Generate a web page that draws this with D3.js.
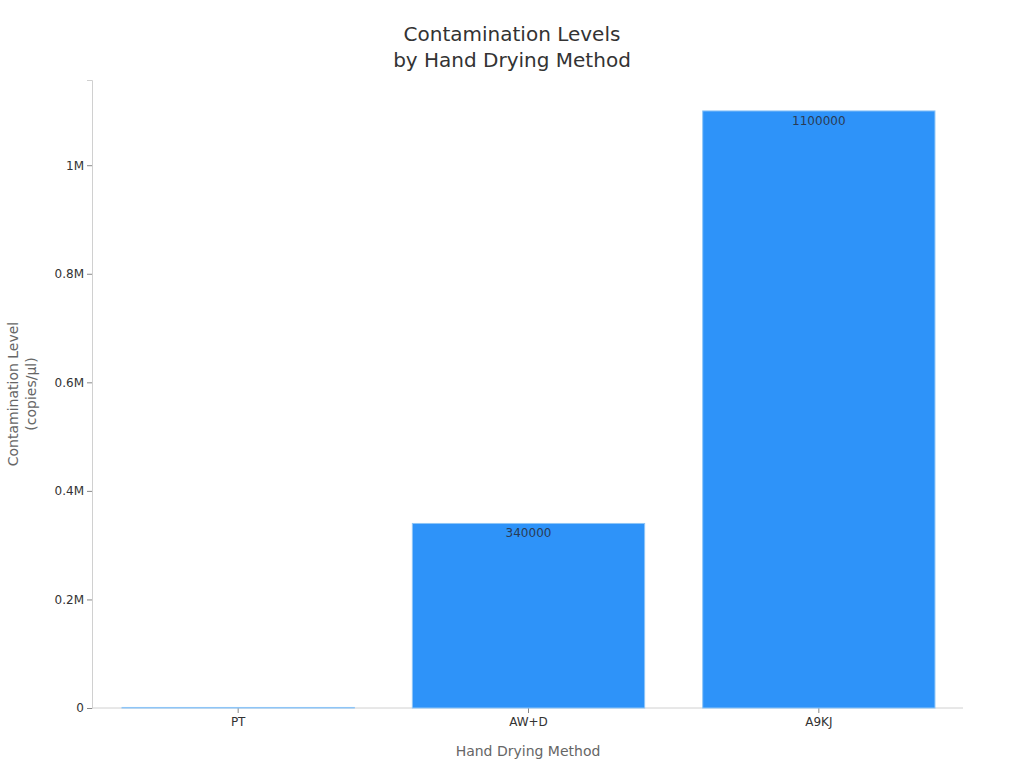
<!DOCTYPE html>
<html>
<head>
<meta charset="utf-8">
<script src="https://cdn.jsdelivr.net/npm/d3@7"></script>
<style>
body{margin:0;background:#fff;font-family:"DejaVu Sans",sans-serif;}
</style>
</head>
<body>
<svg width="1024" height="768"></svg>
<script>
var methods = ['PT', 'AW+D', 'A9KJ'];
var levels = [1000, 340000, 1100000];
var yTicks = [0, 200000, 400000, 600000, 800000, 1000000];

var svg = d3.select('svg');
var plotLeft = 92, plotRight = 963, plotTop = 80, plotBottom = 708;

var x = d3.scaleBand().domain(methods).range([plotLeft + 1, plotRight + 1]).paddingInner(0.2).paddingOuter(0.1);
var y = d3.scaleLinear().domain([0, 1157000]).range([plotBottom, plotTop]);

// title
svg.append('text').attr('x', 512).attr('y', 41).attr('text-anchor', 'middle')
  .attr('font-size', 20).attr('fill', '#333').text('Contamination Levels');
svg.append('text').attr('x', 512).attr('y', 67).attr('text-anchor', 'middle')
  .attr('font-size', 20).attr('fill', '#333').text('by Hand Drying Method');

// axes
var yAxis = svg.append('g').attr('transform', 'translate(' + plotLeft + ',0)')
  .call(d3.axisLeft(y).tickValues(yTicks).tickSize(5).tickPadding(3)
    .tickFormat(function(v){ return v === 0 ? '0' : (v / 1e6) + 'M'; }));
var xAxis = svg.append('g').attr('transform', 'translate(0,' + plotBottom + ')')
  .call(d3.axisBottom(x).tickSize(5).tickPadding(4));

[yAxis, xAxis].forEach(function(a){
  a.select('.domain').attr('stroke', '#d0d0d0');
  a.selectAll('.tick line').attr('stroke', '#888');
  a.selectAll('.tick text').attr('font-size', 12).attr('fill', '#333').attr('font-family', '"DejaVu Sans",sans-serif');
});
xAxis.select('.domain').attr('d', 'M' + plotLeft + ',0H' + plotRight);

// bars
svg.selectAll('rect.bar').data(levels).enter().append('rect')
  .attr('class', 'bar')
  .attr('x', function(d, i){ return x(methods[i]); })
  .attr('width', x.bandwidth())
  .attr('y', function(d){ return y(d); })
  .attr('height', function(d){ return plotBottom - y(d); })
  .attr('fill', '#2e93f9').attr('stroke', '#8ec5f7').attr('stroke-width', 1);

svg.selectAll('text.lbl').data(levels).enter().append('text').attr('class', 'lbl')
  .filter(function(d){ return plotBottom - y(d) > 20; })
  .attr('x', function(d){ return x(methods[levels.indexOf(d)]) + x.bandwidth() / 2; })
  .attr('y', function(d){ return y(d) + 14; })
  .attr('text-anchor', 'middle').attr('font-size', 12).attr('fill', '#2a3b55')
  .text(function(d){ return d; });

// axis titles
svg.append('text').attr('x', 528).attr('y', 756).attr('text-anchor', 'middle')
  .attr('font-size', 14).attr('fill', '#666').text('Hand Drying Method');
var yt = svg.append('text').attr('transform', 'translate(18,394) rotate(-90)')
  .attr('text-anchor', 'middle').attr('font-size', 14).attr('fill', '#666');
yt.append('tspan').attr('x', 0).attr('dy', 0).text('Contamination Level');
yt.append('tspan').attr('x', 0).attr('dy', 18).text('(copies/μl)');
</script>
</body>
</html>
